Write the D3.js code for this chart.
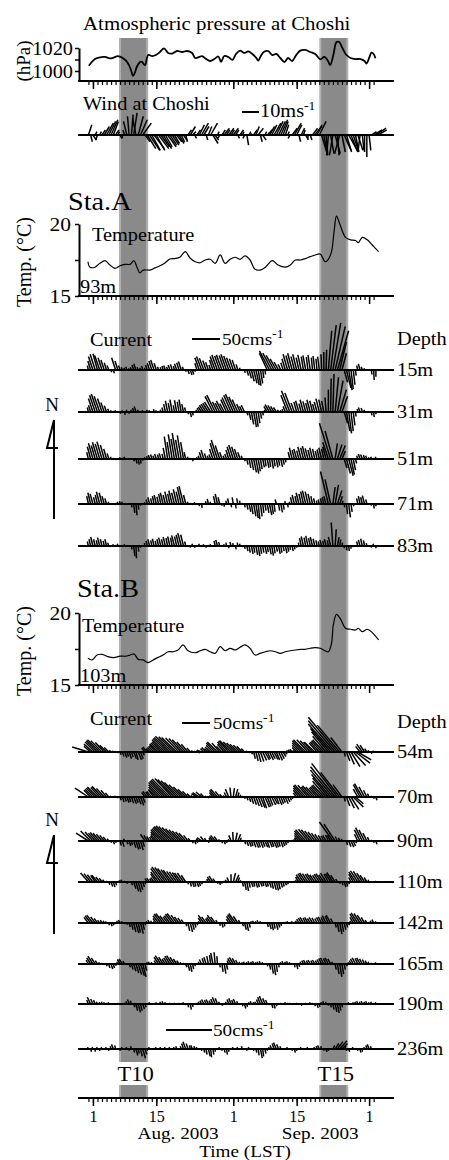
<!DOCTYPE html>
<html><head><meta charset="utf-8">
<script src="https://cdn.jsdelivr.net/npm/d3@7"></script>
<style>body{margin:0;background:#fff}svg{display:block}text{font-family:"Liberation Serif","Times New Roman",serif;fill:#000}</style>
</head><body><svg id="c" width="449" height="1160"></svg>
<script>
// time in days since 1 Aug 2003 00:00 LST
const minorTickDays = d3.range(-1, 63);
const majorTickDays = [0, 14, 31, 45, 61];
const majorTickLabels = ["1", "15", "1", "15", "1"];
const monthLabels = [{text: "Aug. 2003", day: 18.8}, {text: "Sep. 2003", day: 50.2}];
const events = [{name: "T10", start: 5.75, end: 12.2}, {name: "T15", start: 50.0, end: 56.4}];

// atmospheric pressure at Choshi [day, hPa]
const pressure = [[-0.9,1004.6],[0.44,1010.4],[1.55,1011.9],[2.65,1012.2],[3.76,1011],[4.6,1011.7],[5.5,1013],[6.6,1011.3],[7.7,1007],[8.4,1000.9],[8.85,995.7],[9.3,999],[9.7,1003.7],[10.4,1007.8],[10.8,1008],[11.5,1005.2],[12.2,1013.9],[13.1,1013],[13.9,1013.9],[14.8,1016.5],[15.7,1019.7],[16.6,1015.7],[17.5,1015.2],[18.6,1017.4],[19.7,1016.5],[20.8,1017.4],[21.9,1015.7],[22.6,1011.3],[23.5,1012.2],[24.1,1013],[25,1010.4],[25.9,1008.7],[26.8,1010.4],[27.7,1012.6],[28.3,1008],[29,1013],[29.9,1012.2],[30.8,1009.6],[31.6,1014.8],[32.5,1017.7],[33.4,1015.7],[34.3,1017],[35.2,1014.8],[36.1,1011.3],[36.5,1009],[37.2,1013.9],[37.8,1016.8],[38.7,1017.4],[39.6,1013.9],[40.5,1014.8],[41.4,1011.3],[42.3,1007.8],[43.1,1011.3],[44,1008.7],[44.9,1013.9],[45.8,1017.7],[46.9,1018.3],[48,1016.5],[49.1,1014.8],[50.2,1010.2],[51.1,1012.2],[51.8,1009.6],[52.4,1005.2],[53.1,1013.9],[53.8,1025.2],[54.4,1025.2],[55.1,1020],[56,1013.9],[56.9,1011.3],[58,1010.4],[59.1,1010.4],[60,1008.7],[60.4,1006.5],[61.1,1012.2],[61.5,1015.9],[62,1014.8],[62.4,1011]];
const pressureTicks = [1000, 1010, 1020];

// temperature [day, degC]
const tempA = [[-1.1,17.38],[-0.66,17.0],[0.44,17.0],[1.55,17.27],[2.65,17.45],[3.76,17.15],[4.87,16.92],[5.97,17.1],[7.08,17.2],[8.19,17.2],[9.07,17.45],[9.73,17.0],[10.4,16.6],[11.06,16.8],[12.6,16.8],[13.7,16.95],[14.8,17.1],[15.9,17.3],[17.0,17.57],[18.1,17.6],[19.2,17.69],[20.4,18.08],[21.5,17.62],[22.6,17.38],[23.7,17.31],[24.8,17.5],[25.9,17.55],[27.0,17.27],[28.1,17.85],[29.2,17.27],[30.3,17.55],[31.4,17.69],[32.5,17.55],[33.6,17.78],[34.7,17.5],[35.8,16.85],[36.9,16.8],[38.1,17.0],[39.6,17.45],[40.9,17.15],[42.5,17.0],[43.6,17.15],[44.7,17.5],[45.8,17.5],[46.9,17.6],[48.0,17.73],[49.1,17.85],[50.2,17.92],[51.3,17.38],[52.0,17.55],[52.7,18.08],[53.3,19.58],[53.8,20.55],[54.6,19.93],[55.8,19.07],[56.9,18.9],[58.0,18.85],[58.6,18.7],[59.5,19.07],[60.6,18.9],[61.7,18.54],[63.1,18.08]];
const tempB = [[-1.1,16.85],[-0.2,16.74],[0.9,17.08],[2.0,17.13],[3.3,16.97],[4.6,16.9],[6.0,17.0],[7.3,17.0],[8.2,17.08],[9.1,17.15],[10.0,16.78],[11.1,16.74],[12.2,16.55],[13.3,16.74],[14.4,16.92],[15.5,17.08],[16.6,17.31],[17.7,17.31],[18.8,17.43],[19.9,17.78],[21.0,17.38],[22.6,17.24],[23.7,17.38],[24.8,17.48],[25.9,17.31],[27.0,17.2],[28.1,17.66],[29.2,17.38],[30.3,17.55],[31.4,17.43],[32.5,17.62],[33.6,17.78],[34.7,17.55],[35.8,17.08],[36.9,17.2],[38.1,17.31],[39.2,17.38],[40.3,17.31],[41.4,17.2],[42.5,17.31],[43.6,17.38],[44.7,17.43],[45.8,17.48],[46.9,17.48],[48.0,17.55],[49.1,17.59],[50.2,17.55],[51.3,17.38],[52.0,17.31],[52.7,17.9],[53.1,19.17],[53.8,19.9],[54.6,19.63],[55.8,18.94],[56.9,18.87],[58.0,18.82],[58.6,18.94],[59.5,18.71],[60.6,18.87],[61.7,18.64],[63.1,18.13]];
const tempTicks = [15, 17.5, 20];

// stick vectors [east, north], sampled every half day from day -1
const stickStart = -1, stickStep = 0.5;
const windUV = [[2,6],[1,-4],[2,-3],[1,2],[-1,-3],[1,2],[2,3],[3,5],[4,7],[4,8],
[4,9],[3,8],[2,3],[1,2],[1,-2],[0,-2],[-1,3],[-2,8],[-1,11],[1,12],
[2,13],[-2,10],[3,11],[4,9],[5,7],[3,-4],[5,-8],[6,-9],[5,-9],[6,-8],
[5,-9],[6,-8],[5,-7],[5,-8],[4,-7],[5,-7],[4,-6],[4,-6],[3,-5],[3,-4],
[3,-5],[2,-4],[2,-3],[1,-4],[2,3],[3,5],[2,2],[1,-2],[2,3],[3,6],
[4,7],[3,5],[1,-3],[2,5],[4,7],[3,-5],[2,-3],[1,2],[-1,-2],[2,3],
[3,4],[2,3],[3,4],[2,3],[3,4],[2,3],[1,-2],[2,3],[1,2],[-1,-2],
[1,-6],[1,2],[0,1],[2,3],[2,5],[3,4],[1,-4],[2,-3],[1,2],[3,3],
[3,5],[3,6],[4,7],[4,8],[4,8],[4,9],[3,8],[2,6],[1,2],[-1,-2],
[3,4],[4,7],[3,6],[1,-4],[2,4],[1,3],[1,-2],[0,-3],[1,-3],[3,4],
[4,5],[3,6],[4,8],[3,-10],[2,-11],[1,-12],[-1,-12],[2,-11],[-2,-12],[3,-11],
[1,-12],[-3,-11],[2,-10],[4,-9],[3,-10],[5,-9],[4,-10],[3,-9],[2,-10],[3,-9],
[-1,-8],[1,-9],[0,-10],[0,-13],[1,-9],[3,2],[5,3],[6,4],[5,3]];

const curA15 = [[-2,8],[-5,16],[-8,24],[-9,28],[-8,29],[-9,26],[-7,22],[-6,18],[-4,13],[-3,8],
[1,-4],[2,-6],[-7,22],[-5,16],[-3,8],[-2,5],[-1,4],[-2,6],[-1,3],[-2,5],
[-3,9],[-4,11],[-2,5],[-1,4],[-2,7],[-1,4],[-3,9],[-4,12],[-5,16],[-6,18],
[-4,12],[-2,6],[-1,5],[-2,7],[-3,8],[-2,6],[-3,9],[-3,10],[-2,7],[-4,11],
[-4,13],[-5,15],[-2,6],[1,-3],[2,-7],[3,-9],[2,-8],[1,-3],[-4,12],[-8,22],
[-9,24],[-8,21],[-6,17],[-5,14],[-3,9],[-6,18],[-9,24],[-10,27],[-9,25],[-10,27],
[-9,26],[-10,28],[-9,25],[-8,22],[-7,20],[-6,18],[-3,10],[-1,4],[0,-2],[1,-5],
[3,-10],[4,-15],[5,-20],[6,-24],[6,-27],[5,-28],[4,-24],[2,-14],[1,-8],[-14,30],
[-18,34],[-16,30],[-14,26],[-11,20],[-8,14],[-5,10],[-4,13],[-6,20],[-8,28],[-7,26],
[-8,30],[-6,24],[-7,28],[-5,22],[-6,27],[-4,24],[-5,26],[-3,23],[-4,27],[-2,22],
[-3,25],[-2,20],[-3,24],[-1,28],[0,32],[1,36],[6,70],[10,80],[14,84],[18,78],
[20,70],[12,50],[8,30],[6,-22],[8,-32],[6,-36],[4,-34],[3,-26],[1,-10],[-2,8],
[-3,11],[-2,6],[-1,3],[0,2],[0,-2],[1,-8],[1,-18],[0,-12],[0,-2]];
const curA31 = [[-2,8],[-4,12],[-8,24],[-10,30],[-11,32],[-10,28],[-8,24],[-6,17],[-4,11],[-2,6],
[-1,3],[0,2],[-1,3],[0,-2],[1,-3],[-1,3],[1,-5],[-1,4],[0,-3],[-1,4],
[-2,7],[-3,10],[-1,4],[0,2],[-1,3],[0,2],[-1,4],[-1,3],[0,2],[-1,5],
[-1,3],[0,2],[-1,4],[-2,8],[-3,14],[-4,20],[-3,16],[-4,22],[-2,12],[-4,21],
[-3,18],[-4,22],[-3,14],[-2,8],[1,-4],[2,-9],[1,-6],[0,-2],[-2,4],[-4,7],
[-6,9],[-8,12],[-9,14],[-10,16],[-11,18],[-14,28],[-15,30],[-9,18],[-8,16],[-10,20],
[-8,15],[-10,22],[-12,26],[-13,30],[-14,32],[-12,27],[-10,22],[-6,14],[-5,10],[-6,12],
[2,-6],[3,-14],[4,-22],[5,-27],[4,-26],[3,-20],[2,-12],[1,-6],[-1,4],[-6,10],
[-8,13],[-7,12],[-6,10],[-5,8],[-2,4],[-1,3],[-2,5],[-4,10],[-12,30],[-15,38],
[-13,34],[-6,16],[-5,18],[-6,20],[-4,15],[-6,22],[-5,19],[-4,16],[-6,22],[-5,20],
[-4,14],[-5,18],[-6,24],[-5,22],[-4,20],[-2,26],[0,40],[1,60],[2,68],[6,62],
[10,56],[12,40],[10,28],[6,-20],[6,-34],[5,-38],[4,-34],[3,-24],[1,-8],[-1,5],
[-3,8],[-2,7],[-1,4],[0,2],[0,-2],[1,-6],[1,-9],[0,-4],[0,-1]];
const curA51 = [[-3,12],[-6,22],[-8,28],[-7,24],[-9,30],[-8,27],[-9,31],[-7,25],[-5,18],[-3,10],
[-1,4],[0,2],[0,-2],[0,1],[-1,3],[0,2],[-1,4],[0,2],[0,-2],[0,1],
[1,-4],[2,-8],[2,-10],[1,-8],[0,-3],[-1,3],[-1,5],[-2,7],[-2,8],[-2,6],
[-3,9],[-2,8],[-3,10],[-2,9],[-4,20],[-6,40],[-5,30],[-7,44],[-6,36],[-8,46],
[-6,34],[-7,42],[-5,30],[-3,12],[-1,4],[0,2],[1,-4],[0,2],[-1,3],[-2,6],
[-4,12],[-5,16],[-3,10],[-2,6],[-3,8],[-6,18],[-9,28],[-11,34],[-8,24],[-4,12],
[-2,6],[-3,9],[-5,16],[-7,22],[-8,25],[-7,22],[-6,18],[-4,12],[-2,6],[1,-4],
[2,-10],[3,-16],[4,-20],[5,-24],[5,-26],[4,-22],[3,-18],[3,-15],[2,-13],[3,-16],
[2,-14],[3,-17],[2,-13],[3,-15],[2,-12],[3,-14],[2,-10],[1,-6],[0,-2],[-3,12],
[-5,20],[-4,16],[-5,18],[-4,15],[-6,22],[-5,20],[-6,23],[-5,19],[-4,16],[-5,20],
[-4,18],[-3,14],[-4,17],[-5,20],[-4,18],[-6,22],[-10,30],[-20,64],[-14,50],[4,28],
[8,26],[10,24],[6,14],[5,-16],[7,-26],[8,-30],[6,-28],[4,-20],[2,-8],[-2,6],
[-3,9],[-3,8],[-2,7],[-2,6],[-1,3],[-1,4],[0,2],[-1,4],[0,1]];
const curA71 = [[-3,14],[-5,20],[-5,18],[-3,12],[-4,16],[-6,22],[-5,20],[-4,14],[-3,10],[-1,4],
[0,-2],[0,1],[0,-2],[-1,4],[-1,5],[-1,4],[0,2],[0,-2],[0,-2],[1,-6],
[2,-16],[2,-20],[1,-10],[0,-3],[0,1],[-1,3],[-2,8],[-3,12],[-2,10],[-3,14],
[-4,16],[-3,13],[-4,18],[-5,20],[-4,16],[-5,22],[-4,18],[-6,24],[-5,20],[-6,26],
[-5,22],[-7,30],[-8,32],[-4,16],[-1,4],[0,2],[0,-2],[-1,3],[0,2],[0,-4],
[1,-7],[0,-2],[-1,5],[-2,9],[-1,4],[0,2],[-3,14],[-4,18],[-3,12],[0,-3],
[0,-5],[-1,6],[-2,10],[1,-6],[-2,12],[1,-8],[-2,10],[-1,6],[0,2],[1,-6],
[2,-10],[3,-14],[3,-18],[4,-22],[4,-25],[3,-27],[3,-22],[2,-16],[2,-12],[3,-16],
[4,-20],[3,-18],[2,-14],[-2,8],[2,-12],[3,-15],[2,-10],[-1,5],[1,-6],[-1,4],
[-3,12],[-4,16],[-3,14],[-5,20],[-4,18],[-5,22],[-6,24],[-5,22],[-4,18],[-3,14],
[-2,10],[-1,6],[-2,8],[-2,10],[-3,12],[-4,14],[-14,58],[-10,44],[4,30],[6,34],
[8,24],[5,14],[2,6],[1,-6],[2,-18],[3,-24],[2,-14],[1,-4],[0,2],[-2,10],
[-3,14],[-3,12],[-4,15],[-2,8],[0,2],[0,-3],[1,-8],[0,-4],[0,1]];
const curA83 = [[-2,8],[-3,12],[-4,16],[-3,12],[-2,10],[-4,15],[-3,12],[-2,9],[-3,12],[-2,6],
[0,2],[-1,3],[0,2],[-1,4],[0,2],[0,-2],[-1,3],[0,2],[0,-2],[1,-6],
[2,-18],[1,-22],[1,-10],[0,-3],[0,1],[-1,5],[-2,9],[-3,12],[-2,10],[-3,13],
[-2,9],[-3,12],[-4,15],[-3,12],[-4,16],[-3,14],[-4,17],[-3,15],[-5,19],[-4,17],
[-5,20],[-6,23],[-5,20],[-2,8],[0,2],[0,-3],[-1,4],[0,-3],[0,2],[-1,4],
[0,-2],[-1,3],[0,-3],[0,2],[-1,3],[0,2],[-2,9],[-3,11],[-2,7],[0,-2],
[-1,3],[-1,6],[0,-4],[-2,7],[-1,5],[1,-6],[-1,6],[-1,4],[0,-2],[1,-5],
[2,-9],[2,-12],[3,-14],[2,-12],[3,-16],[3,-18],[2,-14],[2,-12],[3,-14],[2,-11],
[3,-15],[3,-17],[2,-13],[2,-10],[3,-14],[2,-12],[2,-9],[3,-13],[2,-10],[1,-7],
[2,-9],[1,-6],[0,-3],[-1,6],[-3,14],[-4,17],[-3,15],[-4,18],[-3,14],[-4,16],
[-3,13],[-2,10],[-2,8],[-3,11],[-2,9],[-3,12],[-2,10],[-4,16],[-3,42],[2,30],
[3,16],[2,12],[1,6],[0,-4],[1,-8],[1,-9],[0,-5],[0,-2],[0,2],[-2,8],
[-3,11],[-3,13],[-2,10],[-1,5],[0,2],[0,-3],[-1,4],[0,-4],[0,2]];

const curB54 = [[-29,9],[-12,10],[-16,14],[-18,18],[-20,20],[-22,22],[-20,20],[-16,17],[-12,12],[-8,8],
[-3,3],[-2,2],[-2,1],[1,-2],[2,-5],[3,-8],[4,-10],[3,-8],[4,-12],[3,-9],
[5,-12],[4,-14],[6,-14],[5,-12],[3,-6],[-6,7],[-8,9],[-6,6],[-8,8],[-10,10],
[-12,12],[-16,14],[-18,16],[-20,18],[-24,22],[-26,24],[-28,26],[-30,28],[-28,27],[-27,26],
[-24,25],[-22,24],[-20,22],[-16,18],[-12,14],[-6,7],[-2,3],[-1,2],[-2,2],[1,-2],
[-8,3],[-6,6],[-8,8],[-7,6],[-10,9],[-12,12],[-16,16],[-18,18],[-14,16],[-10,10],
[-12,14],[-16,18],[-18,20],[-20,20],[-18,18],[-16,16],[-14,14],[-12,12],[-10,10],[-6,6],
[-2,2],[1,-2],[2,-4],[3,-12],[4,-16],[5,-18],[6,-17],[7,-15],[8,-14],[6,-12],
[7,-14],[6,-12],[7,-13],[6,-14],[7,-15],[6,-12],[5,-8],[3,-4],[-2,3],[-3,4],
[-4,5],[-3,3],[-8,8],[-12,12],[-16,16],[-20,20],[-22,22],[-20,22],[-18,20],[-16,18],
[-18,17],[-14,16],[-16,18],[-18,20],[-20,22],[-24,28],[-30,36],[-36,42],[-44,50],[-48,56],
[-52,62],[-40,48],[-20,26],[2,-8],[6,-16],[10,-22],[16,-26],[22,-24],[26,-20],[24,-14],
[-8,10],[-10,14],[-8,12],[-4,6],[-2,3],[1,-3],[-2,2],[0,-2],[-1,1]];
const curB70 = [[-24,16],[-12,12],[-14,14],[-16,16],[-18,18],[-16,17],[-18,19],[-14,15],[-10,12],[-6,7],
[-2,2],[-1,1],[-2,2],[1,-2],[2,-6],[3,-9],[3,-8],[4,-10],[3,-9],[4,-11],
[5,-12],[4,-10],[5,-13],[6,-15],[4,-10],[-6,8],[-8,10],[-7,9],[-9,10],[-10,12],
[-14,14],[-18,18],[-22,22],[-26,26],[-28,28],[-30,30],[-32,32],[-31,33],[-30,31],[-28,29],
[-26,26],[-22,22],[-18,18],[-14,14],[-10,10],[-6,6],[-3,3],[-2,2],[-10,6],[-12,8],
[-10,9],[-6,6],[-2,2],[1,-2],[-2,3],[-6,8],[-10,12],[-12,14],[-8,10],[-4,5],
[-2,3],[-4,8],[-6,14],[-2,17],[2,16],[4,14],[2,8],[1,4],[0,2],[1,-3],
[2,-6],[3,-9],[4,-12],[5,-14],[6,-16],[7,-18],[8,-19],[7,-20],[8,-18],[7,-17],
[6,-15],[7,-14],[6,-12],[5,-13],[6,-14],[5,-12],[4,-10],[5,-12],[4,-9],[3,-6],
[1,-3],[-1,2],[-6,7],[-10,12],[-14,16],[-18,20],[-20,22],[-18,21],[-16,18],[-18,20],
[-16,18],[-14,16],[-16,18],[-18,20],[-20,22],[-24,28],[-28,34],[-34,40],[-40,48],[-44,54],
[-46,60],[-34,44],[-16,22],[2,-8],[6,-16],[10,-20],[14,-22],[18,-18],[14,-12],[-8,14],
[-12,22],[-14,24],[-10,18],[-6,12],[-3,6],[-1,2],[1,-3],[2,-6],[0,-1]];
const curB90 = [[-22,14],[-18,18],[-14,16],[-12,14],[-13,15],[-12,14],[-10,12],[-8,10],[-6,7],[-3,4],
[1,-3],[2,-6],[1,-3],[0,-2],[2,-8],[3,-10],[-2,4],[2,-6],[3,-9],[2,-7],
[4,-12],[5,-15],[4,-14],[5,-16],[3,-10],[-8,12],[-6,10],[-5,8],[-4,7],[-6,9],
[-10,12],[-14,16],[-18,20],[-20,22],[-22,24],[-24,26],[-25,27],[-24,26],[-22,24],[-20,22],
[-18,20],[-16,18],[-14,16],[-12,14],[-8,10],[-4,5],[1,-4],[2,-6],[1,-3],[-6,4],
[-8,6],[-6,8],[-3,5],[1,-3],[-3,5],[-6,8],[-8,10],[-6,8],[-2,3],[1,-4],
[2,-6],[1,-3],[-1,3],[-4,10],[-1,16],[3,15],[5,12],[2,6],[0,2],[2,-6],
[3,-9],[4,-10],[3,-9],[4,-11],[5,-12],[4,-11],[5,-12],[4,-10],[5,-11],[4,-12],
[5,-11],[4,-10],[5,-12],[4,-11],[3,-10],[4,-11],[3,-9],[2,-7],[1,-4],[0,-2],
[-1,2],[-1,3],[-4,6],[-8,10],[-12,14],[-16,18],[-18,20],[-17,21],[-16,20],[-14,18],
[-12,16],[-10,14],[-8,12],[-6,10],[-5,9],[-6,10],[-5,11],[-6,10],[-24,34],[-20,30],
[-4,8],[-2,6],[-1,4],[0,-2],[2,-7],[4,-10],[5,-11],[4,-9],[2,-4],[-6,12],
[-10,20],[-12,24],[-10,20],[-7,14],[-3,7],[-1,2],[1,-3],[2,-6],[0,-1]];
const curB110 = [[-14,16],[-12,15],[-10,13],[-8,12],[-10,12],[-7,9],[-5,7],[-3,4],[-1,2],[2,-5],
[3,-8],[3,-9],[2,-6],[0,-2],[-2,3],[-3,4],[-1,2],[1,-3],[0,-2],[2,-6],
[4,-12],[5,-17],[5,-18],[4,-14],[3,-9],[1,-4],[-4,6],[-5,7],[-4,6],[-6,8],
[-10,14],[-14,18],[-18,24],[-20,27],[-19,26],[-18,24],[-16,22],[-16,21],[-14,19],[-13,18],
[-12,17],[-12,16],[-11,16],[-8,12],[1,-4],[2,-8],[3,-9],[2,-8],[3,-9],[2,-7],
[1,-4],[0,-2],[-1,2],[-3,5],[-6,9],[-7,11],[-4,6],[1,-3],[1,-5],[0,-3],
[-1,2],[-2,4],[-3,8],[0,14],[4,16],[6,13],[3,8],[1,3],[2,-8],[3,-14],
[3,-16],[2,-10],[3,-9],[2,-8],[3,-10],[2,-9],[3,-8],[2,-7],[3,-9],[2,-8],
[3,-10],[3,-12],[4,-14],[4,-15],[3,-13],[3,-10],[2,-8],[2,-6],[1,-4],[0,-2],
[0,1],[-1,2],[-2,4],[-6,9],[-9,13],[-10,15],[-11,16],[-10,15],[-9,14],[-10,15],
[-9,13],[-8,12],[-9,14],[-10,15],[-9,13],[-10,16],[-8,14],[-9,15],[-11,17],[-8,12],
[-3,5],[1,-3],[2,-6],[3,-9],[2,-8],[1,-4],[-4,8],[-8,14],[-12,18],[-13,20],
[-12,19],[-10,16],[-8,12],[-5,8],[-2,4],[0,1],[0,-2],[-1,2],[0,1]];
const curB142 = [[-8,10],[-10,13],[-11,14],[-8,11],[-6,8],[-4,5],[-3,5],[-2,4],[-2,3],[1,-4],
[2,-6],[1,-4],[0,-2],[-2,4],[-3,5],[-2,3],[0,-2],[1,-3],[2,-7],[3,-12],
[4,-16],[5,-18],[4,-17],[5,-19],[3,-12],[1,-4],[-2,3],[-3,5],[-2,4],[-1,3],
[-6,8],[-10,13],[-12,16],[-13,17],[-10,13],[-8,11],[-10,13],[-12,16],[-13,17],[-10,14],
[-8,11],[-6,9],[-4,6],[2,-6],[3,-14],[4,-16],[3,-12],[2,-8],[1,-4],[-2,3],
[-6,9],[-10,14],[-8,11],[-5,8],[-7,10],[-10,14],[-8,11],[-3,5],[1,-5],[2,-8],
[1,-6],[0,-2],[-4,7],[-8,12],[-10,15],[-12,17],[-8,12],[-3,5],[2,-6],[3,-12],
[3,-14],[2,-8],[-1,3],[-2,4],[-1,3],[-2,5],[-1,3],[0,2],[0,-2],[2,-7],
[3,-11],[3,-13],[2,-10],[3,-12],[2,-8],[1,-5],[0,-2],[-1,2],[-1,3],[0,2],
[-1,3],[-1,2],[-2,4],[-4,7],[-5,9],[-6,10],[-5,9],[-6,10],[-5,8],[-6,10],
[-5,9],[-4,8],[-5,10],[-6,11],[-5,10],[-7,13],[-6,12],[-8,14],[-4,8],[2,-8],
[3,-16],[4,-20],[3,-16],[3,-12],[2,-8],[1,-4],[-2,4],[-6,10],[-10,16],[-12,18],
[-11,17],[-9,14],[-6,10],[-3,5],[-1,2],[-2,4],[-3,6],[-1,3],[0,1]];
const curB165 = [[-4,7],[-7,11],[-9,14],[-7,11],[-4,6],[-2,3],[-1,2],[0,-2],[1,-4],[2,-7],
[3,-9],[2,-7],[1,-3],[-2,4],[-5,8],[-6,9],[-3,5],[0,-2],[2,-6],[3,-10],
[4,-13],[5,-16],[6,-19],[7,-21],[6,-23],[3,-12],[-1,3],[-2,4],[-1,3],[0,1],
[-4,6],[-8,12],[-10,15],[-8,12],[-6,9],[-7,11],[-9,14],[-10,15],[-8,12],[-6,9],
[-4,6],[-2,3],[-1,2],[2,-6],[3,-12],[3,-14],[2,-9],[1,-4],[0,-2],[-2,4],
[-4,8],[-3,10],[-4,12],[-3,14],[-2,16],[-4,20],[-2,21],[-1,14],[1,-6],[2,-14],
[3,-17],[2,-10],[-3,6],[-6,10],[-7,12],[-6,10],[-4,7],[-2,4],[-1,3],[-2,4],
[-1,3],[-2,5],[-1,4],[-2,5],[-1,3],[-2,4],[-2,5],[-1,3],[0,2],[1,-4],
[2,-10],[3,-17],[3,-20],[2,-14],[1,-6],[-1,3],[-2,5],[-1,4],[-2,5],[-1,3],
[0,-2],[1,-6],[2,-9],[1,-5],[-2,4],[-3,6],[-4,7],[-3,6],[-4,7],[-3,6],
[-4,7],[-3,6],[-4,8],[-5,10],[-6,11],[-5,10],[-6,11],[-5,9],[-2,4],[2,-10],
[3,-18],[4,-23],[3,-18],[2,-10],[1,-4],[-1,3],[-3,6],[-5,9],[-6,11],[-5,10],
[-6,11],[-5,9],[-4,8],[-3,6],[-2,4],[-1,2],[0,1],[-1,3],[0,1]];
const curB190 = [[-3,7],[-6,12],[-4,9],[-3,7],[-2,4],[-1,3],[-1,4],[-1,3],[0,2],[-1,3],
[0,-2],[0,1],[0,-1],[-1,2],[0,1],[0,-1],[-1,2],[-2,5],[-3,8],[-2,6],
[2,-6],[3,-12],[4,-15],[3,-12],[3,-9],[2,-6],[0,-2],[-1,3],[0,2],[0,-2],
[-1,3],[0,1],[-2,4],[-2,5],[-1,3],[0,1],[-1,2],[0,-2],[-1,2],[0,-1],
[-1,2],[0,-2],[-1,3],[0,-2],[1,-6],[2,-10],[1,-5],[0,1],[-1,2],[-2,4],
[-3,6],[-4,8],[-3,7],[-4,8],[-3,6],[-4,9],[-5,12],[-4,10],[-2,4],[1,-3],
[0,1],[-2,4],[-3,8],[-4,10],[-3,7],[-4,9],[-2,5],[0,1],[1,-4],[2,-8],
[1,-5],[-1,3],[-2,5],[-1,3],[-2,4],[-3,8],[-5,12],[-6,14],[-4,10],[-3,7],
[0,-2],[2,-7],[2,-8],[1,-4],[0,1],[-1,2],[0,1],[-1,3],[0,2],[-1,2],
[0,-1],[0,1],[-1,2],[0,-2],[1,-3],[0,1],[-1,2],[0,-1],[-1,3],[0,2],
[1,-4],[2,-7],[1,-5],[-1,3],[-2,5],[-1,4],[0,-3],[1,-6],[2,-10],[3,-14],
[3,-16],[2,-12],[1,-6],[0,-2],[0,1],[-1,3],[0,2],[-1,3],[-1,4],[-2,5],
[-1,4],[-2,5],[-1,4],[-2,5],[-1,3],[-1,4],[0,2],[-1,3],[0,1]];
const curB236 = [[-1,2],[1,-3],[-1,2],[0,-3],[-1,2],[0,-2],[-1,2],[0,1],[-1,2],[0,-2],
[-1,3],[-2,5],[-1,4],[0,1],[0,-2],[-1,2],[0,-1],[-1,2],[0,-2],[-1,3],
[1,-4],[2,-7],[1,-5],[2,-8],[3,-10],[2,-6],[0,-2],[-1,2],[0,1],[0,-1],
[-1,2],[0,-1],[-1,2],[0,1],[-1,2],[0,-1],[-1,2],[0,1],[-1,2],[-1,3],
[0,1],[-1,3],[-2,6],[-3,8],[-2,6],[-1,4],[-2,4],[-1,3],[-1,2],[0,1],
[0,-2],[1,-4],[1,-6],[2,-8],[1,-9],[1,-6],[0,-3],[0,1],[-1,2],[0,-2],
[1,-4],[1,-6],[0,-3],[0,1],[-1,2],[0,-1],[-1,2],[0,1],[-1,3],[0,1],
[0,-2],[-1,2],[0,-1],[0,-2],[1,-4],[1,-7],[2,-10],[1,-8],[1,-5],[0,-2],
[-1,2],[-2,4],[-2,6],[-3,7],[-2,5],[-1,3],[0,1],[0,-1],[-1,2],[0,1],
[0,-2],[1,-4],[0,-2],[0,1],[-1,2],[0,1],[0,-1],[-1,2],[0,1],[0,-1],
[-1,2],[-1,3],[-2,4],[-1,3],[0,-2],[1,-3],[0,-2],[0,1],[2,4],[4,6],
[6,8],[8,9],[6,6],[2,3],[0,-2],[1,-3],[0,1],[-1,2],[0,-1],[0,-2],
[1,-4],[0,-3],[-1,2],[-1,4],[-2,5],[-1,3],[0,1],[0,-1],[0,1]];

const depthsA = ["15m", "31m", "51m", "71m", "83m"];
const depthsB = ["54m", "70m", "90m", "110m", "142m", "165m", "190m", "236m"];

// ---------------- drawing ----------------
const svg = d3.select("#c");
const SX = 1.13;
function txt(x, y, s, size, anchor = "start", sx = SX) {
  return svg.append("text").attr("transform", `translate(${x},${y}) scale(${sx},1)`)
    .attr("font-size", size).attr("text-anchor", anchor).text(s);
}
function txtSup(x, y, s, sup, size) {
  const t = txt(x, y, s, size);
  t.append("tspan").attr("dy", -7).attr("font-size", 12).text(sup);
  return t;
}
function rtxt(x, y, s, size) {
  svg.append("text").attr("transform", `translate(${x},${y}) rotate(-90)`)
    .attr("font-size", size).attr("text-anchor", "middle").text(s);
}

const x = d3.scaleLinear().domain([-3.3, 66.5]).range([78, 394]);
const XL = 78, XR = 394;

// event bands
const bandTop = 38, bandBot = 1098, gapTop = 1062, gapBot = 1085;
const bandG = svg.append("g");
events.forEach(e => {
  const a = x(e.start), b = x(e.end);
  [[bandTop, gapTop], [gapBot, bandBot]].forEach(([t, btm]) => {
    bandG.append("rect").attr("x", a).attr("y", t).attr("width", b - a).attr("height", btm - t).attr("fill", "#b0b0b0");
    bandG.append("rect").attr("x", a + 2).attr("y", t).attr("width", b - a - 4).attr("height", btm - t).attr("fill", "#8a8a8a");
  });
  txt((a + b) / 2 + 2, 1081, e.name, 20, "middle");
});

function timeAxis(y, withLabels) {
  const g1 = svg.append("g").attr("transform", `translate(0,${y})`)
    .call(d3.axisBottom(x).tickValues(minorTickDays).tickSize(4).tickSizeOuter(0).tickFormat(""));
  g1.select(".domain").attr("stroke-width", 2).attr("d", `M${XL},0H${XR}`);
  g1.selectAll(".tick line").attr("stroke-width", 1.2);
  const g2 = svg.append("g").attr("transform", `translate(0,${y})`)
    .call(d3.axisBottom(x).tickValues(majorTickDays).tickSize(8).tickSizeOuter(0).tickPadding(5)
      .tickFormat((d, i) => withLabels ? majorTickLabels[i] : ""));
  g2.select(".domain").remove();
  g2.selectAll(".tick line").attr("stroke-width", 1.5);
  g2.selectAll(".tick text").attr("font-size", 16);
}

// ---- pressure ----
const yP = d3.scaleLinear().domain([991.3, 1020]).range([81, 48]);
txt(83, 30, "Atmospheric pressure at Choshi", 18.5);
rtxt(30, 61, "(hPa)", 19);
const gp = svg.append("g").attr("transform", `translate(79,0)`)
  .call(d3.axisLeft(yP).tickValues(pressureTicks).tickSize(4).tickSizeOuter(0).tickFormat(""));
gp.select(".domain").attr("stroke-width", 2);
gp.selectAll(".tick line").attr("stroke-width", 1.5);
[1000, 1020].forEach(v => txt(73, yP(v) + 7, String(v), 18, "end"));
timeAxis(81, false);
svg.append("path").datum(pressure)
  .attr("d", d3.line().x(d => x(d[0])).y(d => yP(d[1])).curve(d3.curveCatmullRom.alpha(0.5)))
  .attr("fill", "none").attr("stroke", "#000").attr("stroke-width", 1.8);

// ---- sticks ----
function stickRow(data, y0, len) {
  const g = svg.append("g");
  g.selectAll("line").data(data).join("line")
    .attr("x1", (d, i) => x(stickStart + i * stickStep))
    .attr("y1", y0)
    .attr("x2", (d, i) => x(stickStart + i * stickStep) + len(d[0]))
    .attr("y2", d => y0 - len(d[1]))
    .attr("stroke", "#000").attr("stroke-width", 1.5);
  svg.append("line").attr("x1", XL).attr("x2", XR).attr("y1", y0).attr("y2", y0)
    .attr("stroke", "#000").attr("stroke-width", 2);
}
const windLen = d3.scaleLinear().domain([0, 10]).range([0, 17]);
const curLen = d3.scaleLinear().domain([0, 50]).range([0, 28]);
const deepLen = d3.scaleLinear().domain([0, 50]).range([0, 46]);

txt(83, 110, "Wind at Choshi", 18);
svg.append("line").attr("x1", 242).attr("x2", 242 + windLen(10)).attr("y1", 112).attr("y2", 112).attr("stroke", "#000").attr("stroke-width", 2);
txtSup(260, 117, "10ms", "-1", 18);
stickRow(windUV, 135, windLen);

function northArrow(yTop) {
  txt(52, yTop - 9, "N", 18, "middle", 1.05);
  svg.append("path").attr("d", `M54,${yTop}V${yTop + 99}M54,${yTop}L47,${yTop + 28}H58`)
    .attr("fill", "none").attr("stroke", "#000").attr("stroke-width", 2);
}

// ---- temperature panels ----
function tempPanel(top, title, titleX, titleY, labelX, labelY, depth, depthY, data) {
  const bottom = top + 72;
  const yT = d3.scaleLinear().domain([15, 20]).range([bottom, top]);
  txt(titleX, titleY, title, 25);
  rtxt(31, (top + bottom) / 2 + 2, "Temp. (°C)", 20);
  const g = svg.append("g").attr("transform", "translate(79,0)")
    .call(d3.axisLeft(yT).tickValues(tempTicks).tickSize(4).tickSizeOuter(0).tickFormat(""));
  g.select(".domain").attr("stroke-width", 2);
  g.selectAll(".tick line").attr("stroke-width", 1.5);
  [15, 20].forEach(v => txt(71, yT(v) + 7, String(v), 19, "end"));
  txt(labelX, labelY, "Temperature", 18);
  txt(80, depthY, depth, 18);
  timeAxis(bottom, false);
  svg.append("path").datum(data)
    .attr("d", d3.line().x(d => x(d[0])).y(d => yT(d[1])).curve(d3.curveCatmullRom.alpha(0.5)))
    .attr("fill", "none").attr("stroke", "#000").attr("stroke-width", 1.2);
}
tempPanel(224, "Sta.A", 68, 210, 92, 241, "93m", 293, tempA);
tempPanel(613, "Sta.B", 77, 597, 82, 632, "103m", 682, tempB);

// ---- currents Sta.A ----
txt(90, 346, "Current", 18);
svg.append("line").attr("x1", 192).attr("x2", 192 + curLen(50)).attr("y1", 339).attr("y2", 339).attr("stroke", "#000").attr("stroke-width", 2);
txtSup(222, 345, "50cms", "-1", 17);
txt(397, 345, "Depth", 18);
const rowsA = [curA15, curA31, curA51, curA71, curA83];
const rowYA = [370, 412, 459, 504, 546];
rowsA.forEach((d, i) => { stickRow(d, rowYA[i], curLen); txt(397, rowYA[i] + 6, depthsA[i], 18); });
northArrow(420);

// ---- currents Sta.B ----
txt(90, 725, "Current", 18);
svg.append("line").attr("x1", 182).attr("x2", 182 + curLen(50)).attr("y1", 723).attr("y2", 723).attr("stroke", "#000").attr("stroke-width", 2);
txtSup(213, 729, "50cms", "-1", 17);
txt(397, 728, "Depth", 18);
const rowsB = [curB54, curB70, curB90, curB110, curB142, curB165, curB190, curB236];
const rowYB = [752, 797, 841, 882, 923, 964, 1004, 1049];
rowsB.forEach((d, i) => { stickRow(d, rowYB[i], i === 7 ? deepLen : curLen); txt(397, rowYB[i] + 6, depthsB[i], 18); });
northArrow(835);
svg.append("line").attr("x1", 166).attr("x2", 166 + deepLen(50)).attr("y1", 1030).attr("y2", 1030).attr("stroke", "#000").attr("stroke-width", 2);
txtSup(213, 1036, "50cms", "-1", 17);

// ---- bottom time axis ----
timeAxis(1098, true);
monthLabels.forEach(m => txt(x(m.day), 1139, m.text, 17, "middle"));
txt(245, 1157, "Time (LST)", 17, "middle");
</script></body></html>
